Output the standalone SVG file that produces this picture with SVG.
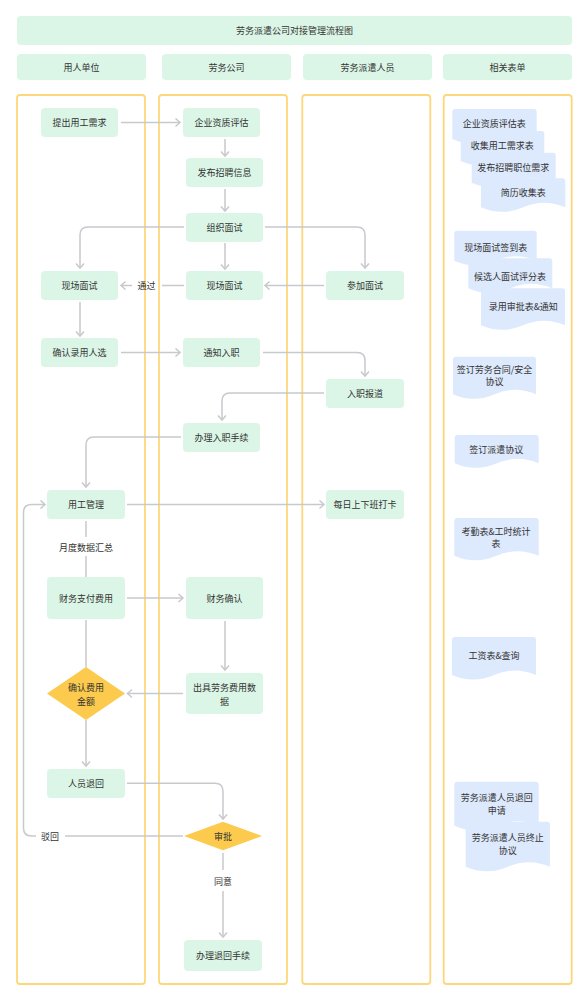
<svg xmlns="http://www.w3.org/2000/svg" width="588" height="1000" viewBox="0 0 588 1000">
<style>
text{font-family:"Noto Sans CJK SC","Noto Sans",sans-serif;font-size:9px;fill:#333;text-anchor:middle;dominant-baseline:central}
.hd{fill:#dbf6e6}
.lane{fill:none;stroke:#fdd77b;stroke-width:1.8}
.nd{fill:#dbf6e6}
.dm{fill:#fcca4d}
.doc{fill:#dde9fc}
.cn{fill:none;stroke:#c8c9cd;stroke-width:1.5}
</style>
<defs>
<marker id="ar" markerUnits="userSpaceOnUse" markerWidth="12" markerHeight="12" refX="5.5" refY="5" orient="auto">
<path d="M1,1 L5.5,5 L1,9" fill="none" stroke="#c8c9cd" stroke-width="1.5"/>
</marker>
</defs>
<rect width="588" height="1000" fill="#fff"/>
<g id="title"><rect class="hd" x="17" y="16" width="555" height="29" rx="4"/><text x="294.5" y="30.5">劳务派遣公司对接管理流程图</text></g>
<g id="header-1"><rect class="hd" x="17" y="54" width="129" height="26" rx="4"/><text x="81.5" y="67">用人单位</text></g>
<g id="header-2"><rect class="hd" x="162" y="54" width="129" height="26" rx="4"/><text x="226.5" y="67">劳务公司</text></g>
<g id="header-3"><rect class="hd" x="303" y="54" width="129" height="26" rx="4"/><text x="367.5" y="67">劳务派遣人员</text></g>
<g id="header-4"><rect class="hd" x="443" y="54" width="129" height="26" rx="4"/><text x="507.5" y="67">相关表单</text></g>
<g id="lanes">
<rect class="lane" x="17" y="95" width="128" height="889" rx="3"/>
<rect class="lane" x="159" y="95" width="128" height="889" rx="3"/>
<rect class="lane" x="302.3" y="95" width="128" height="889" rx="3"/>
<rect class="lane" x="443.7" y="95" width="128" height="889" rx="3"/>
</g>
<g id="connectors">
<path class="cn" d="M121,122.5 H180" marker-end="url(#ar)"/>
<path class="cn" d="M225,139 V156" marker-end="url(#ar)"/>
<path class="cn" d="M225,189 V211" marker-end="url(#ar)"/>
<path class="cn" d="M184,227 H88 Q80,227 80,235 V268" marker-end="url(#ar)"/>
<path class="cn" d="M225,243 V269" marker-end="url(#ar)"/>
<path class="cn" d="M265,227 H357 Q365,227 365,235 V268" marker-end="url(#ar)"/>
<path class="cn" d="M324,285.5 H265" marker-end="url(#ar)"/>
<path class="cn" d="M184,285.5 H162"/>
<path class="cn" d="M132,285.5 H121" marker-end="url(#ar)"/>
<path class="cn" d="M80,302 V336" marker-end="url(#ar)"/>
<path class="cn" d="M121,352.5 H180" marker-end="url(#ar)"/>
<path class="cn" d="M263,352.5 H357 Q365,352.5 365,360.5 V376" marker-end="url(#ar)"/>
<path class="cn" d="M324,393 H230 Q222,393 222,401 V420" marker-end="url(#ar)"/>
<path class="cn" d="M181,437 H94 Q86,437 86,445 V487" marker-end="url(#ar)"/>
<path class="cn" d="M127,504.5 H324" marker-end="url(#ar)"/>
<path class="cn" d="M86,521 V537"/>
<path class="cn" d="M86,556 V577"/>
<path class="cn" d="M127,598 H183" marker-end="url(#ar)"/>
<path class="cn" d="M225,621 V670" marker-end="url(#ar)"/>
<path class="cn" d="M183,693.5 H127.5" marker-end="url(#ar)"/>
<path class="cn" d="M86,620 V667"/>
<path class="cn" d="M86,720 V766" marker-end="url(#ar)"/>
<path class="cn" d="M127,783.3 H215 Q223,783.3 223,791.3 V819" marker-end="url(#ar)"/>
<path class="cn" d="M183,836 H65"/>
<path class="cn" d="M36,836 H31.5 Q23.5,836 23.5,828 V512.5 Q23.5,504.5 31.5,504.5 H45" marker-end="url(#ar)"/>
<path class="cn" d="M223,853 V870"/>
<path class="cn" d="M223,891 V937" marker-end="url(#ar)"/>
<text x="146.5" y="285.5">通过</text>
<text x="86" y="547">月度数据汇总</text>
<text x="50" y="836">驳回</text>
<text x="223" y="881">同意</text>
</g>
<g id="n1"><rect class="nd" x="41" y="108" width="77" height="29" rx="4"/><text x="79.5" y="122.5">提出用工需求</text></g>
<g id="n2"><rect class="nd" x="183" y="108" width="77" height="29" rx="4"/><text x="221.5" y="122.5">企业资质评估</text></g>
<g id="n3"><rect class="nd" x="186" y="158" width="77" height="29" rx="4"/><text x="224.5" y="172.5">发布招聘信息</text></g>
<g id="n4"><rect class="nd" x="186" y="213" width="77" height="29" rx="4"/><text x="224.5" y="227.5">组织面试</text></g>
<g id="n5"><rect class="nd" x="41" y="271" width="77" height="29" rx="4"/><text x="79.5" y="285.5">现场面试</text></g>
<g id="n6"><rect class="nd" x="186" y="271" width="77" height="29" rx="4"/><text x="224.5" y="285.5">现场面试</text></g>
<g id="n7"><rect class="nd" x="326" y="271" width="78" height="29" rx="4"/><text x="365" y="285.5">参加面试</text></g>
<g id="n8"><rect class="nd" x="41" y="338" width="77" height="29" rx="4"/><text x="79.5" y="352.5">确认录用人选</text></g>
<g id="n9"><rect class="nd" x="183" y="338" width="77" height="29" rx="4"/><text x="221.5" y="352.5">通知入职</text></g>
<g id="n10"><rect class="nd" x="326" y="379" width="78" height="29" rx="4"/><text x="365" y="393.5">入职报道</text></g>
<g id="n11"><rect class="nd" x="183" y="423" width="77" height="29" rx="4"/><text x="221.5" y="437.5">办理入职手续</text></g>
<g id="n12"><rect class="nd" x="47" y="490" width="78" height="29" rx="4"/><text x="86" y="504.5">用工管理</text></g>
<g id="n13"><rect class="nd" x="326" y="490" width="78" height="29" rx="4"/><text x="365" y="504.5">每日上下班打卡</text></g>
<g id="n14"><rect class="nd" x="47" y="577" width="78" height="42" rx="4"/><text x="86" y="598">财务支付费用</text></g>
<g id="n15"><rect class="nd" x="186" y="577" width="77" height="42" rx="4"/><text x="224.5" y="598">财务确认</text></g>
<g id="n16"><polygon class="dm" points="47,693.5 86,667 125,693.5 86,720"/><text x="86" y="687.7">确认费用</text><text x="86" y="701">金额</text></g>
<g id="n17"><rect class="nd" x="186" y="673" width="77" height="41" rx="4"/><text x="224.5" y="687.7">出具劳务费用数</text><text x="224.5" y="701">据</text></g>
<g id="n18"><rect class="nd" x="47" y="769" width="78" height="29" rx="4"/><text x="86" y="783.3">人员退回</text></g>
<g id="n19"><polygon class="dm" points="184,836 223,821.7 262,836 223,850.3"/><text x="223" y="836">审批</text></g>
<g id="n20"><rect class="nd" x="184" y="940" width="78" height="31" rx="4"/><text x="223" y="955.5">办理退回手续</text></g>
<g id="d1"><path class="doc" d="M452.3,112 Q452.3,109 455.3,109 H533.7 Q536.7,109 536.7,112 V139 Q515.6,130 494.5,139 Q473.4,148 452.3,139 Z"/><text x="494.3" y="123.3">企业资质评估表</text></g>
<g id="d2"><path class="doc" d="M460.7,134 Q460.7,131 463.7,131 H541.3 Q544.3,131 544.3,134 V161 Q523.4,152 502.5,161 Q481.6,170 460.7,161 Z"/><text x="502.3" y="145">收集用工需求表</text></g>
<g id="d3"><path class="doc" d="M471.7,155.7 Q471.7,152.7 474.7,152.7 H552.7 Q555.7,152.7 555.7,155.7 V182.7 Q534.7,173.7 513.7,182.7 Q492.7,191.7 471.7,182.7 Z"/><text x="513.3" y="167.3">发布招聘职位需求</text></g>
<g id="d4"><path class="doc" d="M481,181.3 Q481,178.3 484,178.3 H562.3 Q565.3,178.3 565.3,181.3 V207.3 Q544.2,198.3 523.2,207.3 Q502.1,216.3 481,207.3 Z"/><text x="523.3" y="192.7">简历收集表</text></g>
<g id="d5"><path class="doc" d="M454.3,233.7 Q454.3,230.7 457.3,230.7 H533.7 Q536.7,230.7 536.7,233.7 V260.7 Q516.1,251.7 495.5,260.7 Q474.9,269.7 454.3,260.7 Z"/><text x="495.7" y="247.7">现场面试签到表</text></g>
<g id="d6"><path class="doc" d="M468.3,261.3 Q468.3,258.3 471.3,258.3 H549.3 Q552.3,258.3 552.3,261.3 V288.3 Q531.3,279.3 510.3,288.3 Q489.3,297.3 468.3,288.3 Z"/><text x="510" y="276">候选人面试评分表</text></g>
<g id="d7"><path class="doc" d="M481,291.3 Q481,288.3 484,288.3 H562 Q565,288.3 565,291.3 V325.3 Q544,316.3 523,325.3 Q502,334.3 481,325.3 Z"/><text x="523.3" y="306.7">录用审批表&amp;通知</text></g>
<g id="d8"><path class="doc" d="M453,359.7 Q453,356.7 456,356.7 H533 Q536,356.7 536,359.7 V394.3 Q515.3,385.3 494.5,394.3 Q473.8,403.3 453,394.3 Z"/><text x="494.5" y="369.3">签订劳务合同/安全</text><text x="494.5" y="381.7">协议</text></g>
<g id="d9"><path class="doc" d="M454.7,438 Q454.7,435 457.7,435 H535.7 Q538.7,435 538.7,438 V463.3 Q517.7,454.3 496.7,463.3 Q475.7,472.3 454.7,463.3 Z"/><text x="496.3" y="449">签订派遣协议</text></g>
<g id="d10"><path class="doc" d="M454.3,521 Q454.3,518 457.3,518 H535.7 Q538.7,518 538.7,521 V555.7 Q517.6,546.7 496.5,555.7 Q475.4,564.7 454.3,555.7 Z"/><text x="496" y="531">考勤表&amp;工时统计</text><text x="496" y="543.3">表</text></g>
<g id="d11"><path class="doc" d="M452,640 Q452,637 455,637 H533 Q536,637 536,640 V675 Q515,666 494,675 Q473,684 452,675 Z"/><text x="494" y="655.7">工资表&amp;查询</text></g>
<g id="d12"><path class="doc" d="M454.3,784.7 Q454.3,781.7 457.3,781.7 H535.7 Q538.7,781.7 538.7,784.7 V825.7 Q517.6,816.7 496.5,825.7 Q475.4,834.7 454.3,825.7 Z"/><text x="496.7" y="797.7">劳务派遣人员退回</text><text x="496.7" y="810.3">申请</text></g>
<g id="d13"><path class="doc" d="M465.7,824.7 Q465.7,821.7 468.7,821.7 H547 Q550,821.7 550,824.7 V866.7 Q528.9,857.7 507.9,866.7 Q486.8,875.7 465.7,866.7 Z"/><text x="507.7" y="837.7">劳务派遣人员终止</text><text x="507.7" y="850">协议</text></g>
</svg>
